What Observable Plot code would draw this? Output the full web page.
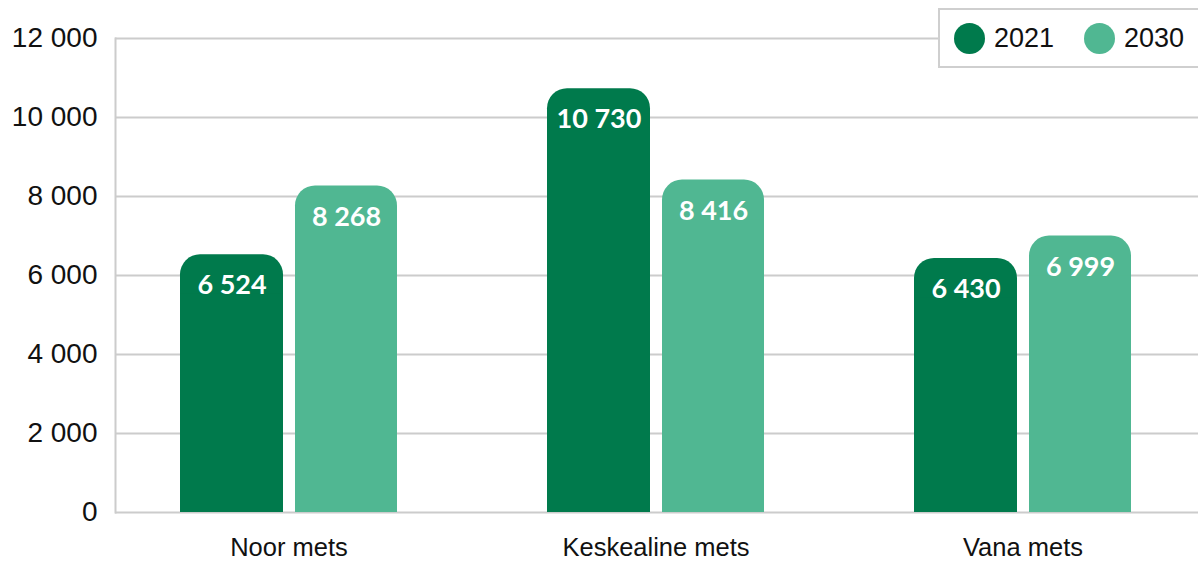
<!DOCTYPE html>
<html>
<head>
<meta charset="utf-8">
<script src="https://cdn.jsdelivr.net/npm/d3@7"></script>
<script src="https://cdn.jsdelivr.net/npm/@observablehq/plot@0.6"></script>
<style>
  html, body { margin: 0; padding: 0; background: #fff; }
  #wrap { position: relative; width: 1198px; height: 562px; overflow: hidden; }
  #legend {
    position: absolute; left: 938px; top: 8px; width: 270px; height: 56px;
    border: 2px solid #cfcfcf; background: #fff; box-sizing: content-box;
    font-family: "Liberation Sans", Arial, sans-serif; font-size: 27px; color: #111;
  }
  .li { position: absolute; top: 0; height: 56px; display: flex; align-items: center; }
  .dot { width: 31px; height: 31px; border-radius: 50%; margin-right: 9px; }
</style>
</head>
<body>
<div id="wrap">
  <div id="chart"></div>
  <div id="legend"></div>
</div>
<script>
const categories = ["Noor mets", "Keskealine mets", "Vana mets"];
const years = ["2021", "2030"];
const values2021 = [6524, 10730, 6430];
const values2030 = [8268, 8416, 6999];
const yTicks = [0, 2000, 4000, 6000, 8000, 10000, 12000];
const colors = ["#007a4c", "#50b792"];

const fmt = d3.formatLocale({thousands: " ", grouping: [3], decimal: ","}).format(",");

const rows2021 = categories.map((c, i) => ({category: c, year: "2021", value: values2021[i]}));
const rows2030 = categories.map((c, i) => ({category: c, year: "2030", value: values2030[i]}));

const R = 20;
const flatTop = d => d.value - 1000;

const chart = Plot.plot({
  width: 1198,
  height: 562,
  marginLeft: 115,
  marginRight: 0,
  marginTop: 38,
  marginBottom: 50,
  style: {fontFamily: "Liberation Sans, Arial, sans-serif", background: "transparent"},
  x: {domain: categories, range: [105, 1206], padding: 0, label: null},
  y: {domain: [0, 12000], label: null},
  marks: [
    Plot.ruleY(yTicks, {stroke: "#cccccc", strokeWidth: 2}),
    Plot.frame({anchor: "left", stroke: "#cccccc", strokeWidth: 2}),
    Plot.rect(rows2021, {x: "category", y1: 0, y2: "value", fill: colors[0], insetLeft: 75, insetRight: 189, rx: R, ry: R}),
    Plot.rect(rows2021, {x: "category", y1: 0, y2: flatTop, fill: colors[0], insetLeft: 75, insetRight: 189}),
    Plot.rect(rows2030, {x: "category", y1: 0, y2: "value", fill: colors[1], insetLeft: 190, insetRight: 75, rx: R, ry: R}),
    Plot.rect(rows2030, {x: "category", y1: 0, y2: flatTop, fill: colors[1], insetLeft: 190, insetRight: 75}),
    Plot.text(rows2021, {x: "category", y: "value", text: d => fmt(d.value), dx: -57, dy: 31, fill: "white", fontSize: 27, fontWeight: "bold", fontFamily: "Lato, sans-serif"}),
    Plot.text(rows2030, {x: "category", y: "value", text: d => fmt(d.value), dx: 57.5, dy: 31, fill: "white", fontSize: 27, fontWeight: "bold", fontFamily: "Lato, sans-serif"}),
    Plot.axisY({ticks: yTicks, tickFormat: fmt, tickSize: 0, tickPadding: 18, fontSize: 28, fill: "#111", label: null}),
    Plot.axisX({tickSize: 0, tickPadding: 25, fontSize: 25.5, fill: "#111", label: null})
  ]
});
document.getElementById("chart").appendChild(chart);

const legend = document.getElementById("legend");
const legendX = [14, 144];
years.forEach((y, i) => {
  const item = document.createElement("div");
  item.className = "li";
  item.style.left = legendX[i] + "px";
  item.innerHTML = `<span class="dot" style="background:${colors[i]}"></span><span>${y}</span>`;
  legend.appendChild(item);
});
</script>
</body>
</html>
